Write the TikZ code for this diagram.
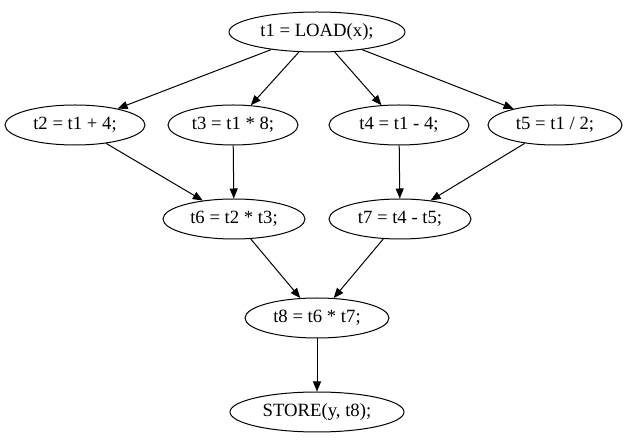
\documentclass[tikz,border=0pt]{standalone}
\usepackage{fontspec}
\setmainfont{Liberation Serif}
\usetikzlibrary{shapes.geometric,arrows.meta}
\begin{document}
\begin{tikzpicture}[x=1pt,y=-1pt,
  op/.style={draw,ellipse,line width=1pt,inner sep=0pt,minimum height=40pt,font=\fontsize{18.7}{21}\selectfont},
  edge/.style={-{Triangle[length=10pt,width=8pt]},line width=1pt}]
\useasboundingbox (0,0) rectangle (627,443);
\node[op,minimum width=176pt] (t1) at (317,32) {t1 = LOAD(x);};
\node[op,minimum width=140pt] (t2) at (75,125) {t2 = t1 + 4;};
\node[op,minimum width=130pt] (t3) at (233,125) {t3 = t1 * 8;};
\node[op,minimum width=140pt] (t4) at (399,125) {t4 = t1 - 4;};
\node[op,minimum width=134pt] (t5) at (555,125) {t5 = t1 / 2;};
\node[op,minimum width=142pt] (t6) at (234,219) {t6 = t2 * t3;};
\node[op,minimum width=142pt] (t7) at (400,219) {t7 = t4 - t5;};
\node[op,minimum width=144pt] (t8) at (317,318) {t8 = t6 * t7;};
\node[op,minimum width=174pt] (st) at (317,412) {STORE(y, t8);};
\draw[edge] (t1) -- (t2);
\draw[edge] (t1) -- (t3);
\draw[edge] (t1) -- (t4);
\draw[edge] (t1) -- (t5);
\draw[edge] (t2) -- (t6);
\draw[edge] (t3) -- (t6);
\draw[edge] (t4) -- (t7);
\draw[edge] (t5) -- (t7);
\draw[edge] (t6) -- (t8);
\draw[edge] (t7) -- (t8);
\draw[edge] (t8) -- (st);
\end{tikzpicture}
\end{document}
